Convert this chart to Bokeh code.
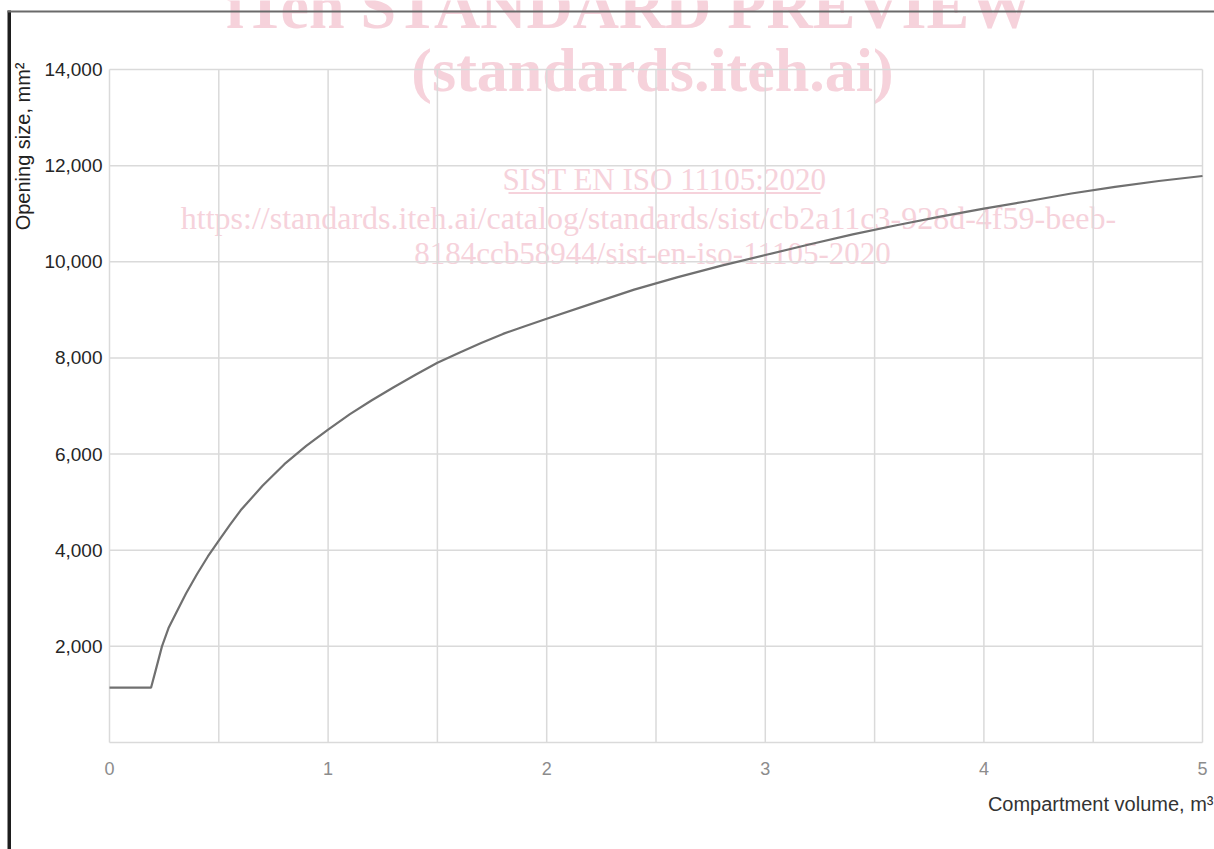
from bokeh.plotting import figure
from bokeh.models import (FixedTicker, NumeralTickFormatter, Label, BoxAnnotation, Range1d)
from bokeh.embed import file_html
from bokeh.resources import INLINE
import math

# ---- data ----
volume_m3 = [0.0, 0.19, 0.21, 0.24, 0.27, 0.3, 0.35, 0.4, 0.45, 0.5, 0.55, 0.6, 0.7, 0.8,
             0.9, 1.0, 1.1, 1.2, 1.3, 1.4, 1.5, 1.6, 1.7, 1.8, 1.9, 2.0, 2.2, 2.4, 2.6,
             2.8, 3.0, 3.2, 3.4, 3.6, 3.8, 4.0, 4.2, 4.4, 4.6, 4.8, 5.0]
opening_mm2 = [1140, 1140, 1480, 2000, 2380, 2650, 3100, 3500, 3870, 4200, 4520, 4830,
               5340, 5790, 6170, 6510, 6830, 7120, 7390, 7650, 7900, 8110, 8310, 8500,
               8660, 8815, 9120, 9420, 9680, 9920, 10140, 10360, 10570, 10760, 10940,
               11105, 11260, 11420, 11560, 11680, 11785]

x_ticks = [0, 1, 2, 3, 4, 5]
x_grid = [0, 0.5, 1, 1.5, 2, 2.5, 3, 3.5, 4, 4.5, 5]
y_ticks = [2000, 4000, 6000, 8000, 10000, 12000, 14000]
y_grid = [0, 2000, 4000, 6000, 8000, 10000, 12000, 14000]

y_title = "Opening size, mm²"
x_title = "Compartment volume, m³"
watermark = ["iTeh STANDARD PREVIEW", "(standards.iteh.ai)", "SIST EN ISO 11105:2020",
             "https://standards.iteh.ai/catalog/standards/sist/cb2a11c3-928d-4f59-beeb-",
             "8184ccb58944/sist-en-iso-11105-2020"]

# ---- layout (page pixels) ----
W, H = 1214, 849
FL, FR, FT, FB = 109, 1202, 69, 742   # plotting area edges on the page
xs_per_px = (5 - 0) / (FR - FL)
ys_per_px = (14000 - 0) / (FB - FT)

p = figure(width=W, height=H, output_backend="svg", toolbar_location=None,
           x_range=Range1d(0 - FL * xs_per_px, 5 + (W - FR) * xs_per_px),
           y_range=Range1d(0 - (H - FB) * ys_per_px, 14000 + FT * ys_per_px),
           min_border=0, min_border_left=0, min_border_right=0,
           min_border_top=0, min_border_bottom=0)
p.background_fill_color = "white"
p.border_fill_color = "white"
p.outline_line_color = None
p.xgrid.grid_line_color = None
p.ygrid.grid_line_color = None

FONT = "Liberation Sans"

p.xaxis.fixed_location = 0
p.yaxis.fixed_location = 0
p.xaxis.ticker = FixedTicker(ticks=x_ticks)
p.yaxis.ticker = FixedTicker(ticks=y_ticks)
p.yaxis.formatter = NumeralTickFormatter(format="0,0")
for ax in (p.xaxis, p.yaxis):
    ax.axis_line_color = None
    ax.major_tick_line_color = None
    ax.minor_tick_line_color = None
    ax.major_label_text_font = FONT
p.xaxis.major_label_text_font_size = "18px"
p.yaxis.major_label_text_font_size = "19px"
p.xaxis.major_label_text_color = "#8c8c8c"
p.xaxis.major_label_standoff = 13
p.yaxis.major_label_text_color = "#262626"
p.yaxis.major_label_standoff = 1

def sx(x):
    return x

def sy(y):
    return H - y

# watermark (under everything)
PINK = "#f6d2db"
wm_specs = [(629, 6, "64px", "bold"), (652, 69, "62px", "bold"), (664, 179, "31px", "normal"),
            (648, 217, "32px", "normal"), (652, 253, "31px", "normal")]
for text, (cx, by, fs, fw) in zip(watermark, wm_specs):
    p.add_layout(Label(x=sx(cx), y=sy(by), x_units="screen", y_units="screen", text=text,
                       text_font="Liberation Serif", text_font_size=fs, text_font_style=fw,
                       text_color=PINK, text_align="center", text_baseline="alphabetic",
                       level="underlay"))
p.add_layout(BoxAnnotation(left=sx(508), right=sx(820), bottom=sy(193.5), top=sy(191.5),
                           left_units="screen", right_units="screen",
                           bottom_units="screen", top_units="screen",
                           fill_color=PINK, fill_alpha=1, line_color=None, level="underlay"))

# grid lines, drawn from the grid tick lists
p.segment(x0=x_grid, x1=x_grid, y0=[y_grid[0]] * len(x_grid), y1=[y_grid[-1]] * len(x_grid),
          line_color="#dadada", line_width=1.5)
p.segment(x0=[x_grid[0]] * len(y_grid), x1=[x_grid[-1]] * len(y_grid), y0=y_grid, y1=y_grid,
          line_color="#dadada", line_width=1.5)

p.line(volume_m3, opening_mm2, line_color="#707070", line_width=2.2)

# scan border lines
p.add_layout(BoxAnnotation(left=sx(7), right=sx(10.5), bottom=sy(849), top=sy(10),
                           left_units="screen", right_units="screen",
                           bottom_units="screen", top_units="screen",
                           fill_color="#1e1e1e", fill_alpha=1, line_color=None,
                           level="overlay"))
p.add_layout(BoxAnnotation(left=sx(7), right=sx(1214), bottom=sy(12), top=sy(10),
                           left_units="screen", right_units="screen",
                           bottom_units="screen", top_units="screen",
                           fill_color="#6a6a6a", fill_alpha=1, line_color=None,
                           level="overlay"))

# axis titles
p.add_layout(Label(x=sx(22), y=sy(62), x_units="screen", y_units="screen", text=y_title,
                   angle=math.pi / 2, text_font=FONT, text_font_size="20px",
                   text_color="#222222", text_align="right", text_baseline="middle"))
p.add_layout(Label(x=sx(1213), y=sy(803), x_units="screen", y_units="screen", text=x_title,
                   text_font=FONT, text_font_size="20px",
                   text_color="#333333", text_align="right", text_baseline="middle"))

open("out.html", "w").write(file_html(p, INLINE))
